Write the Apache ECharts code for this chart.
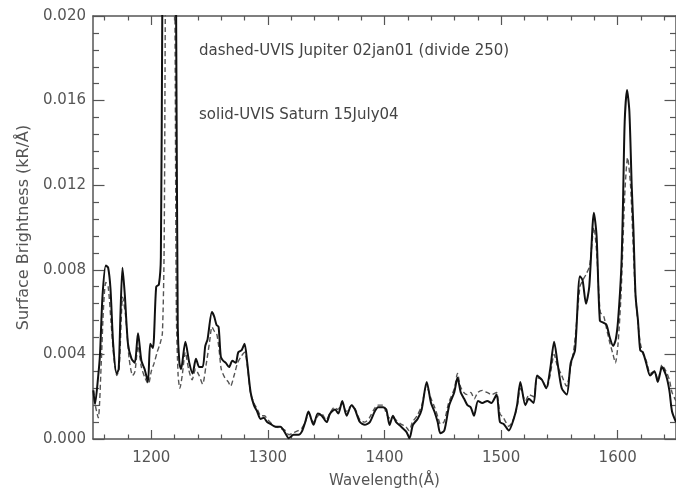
<!DOCTYPE html>
<html>
<head>
<meta charset="utf-8">
<style>html,body{margin:0;padding:0;background:#fff;}#c{width:676px;height:494px;}</style>
<script src="https://cdn.jsdelivr.net/npm/echarts@6/dist/echarts.min.js"></script>
</head>
<body>
<div id="c"></div>
<script>
// Saturn (solid) spectrum: wavelength (Å) and surface brightness (kR/Å)
const solidWl = [1150.3,1151.7,1154.5,1156,1158.2,1161,1163,1165,1167.3,1170.2,1172,1173.6,1175.3,1177.3,1180,1183,1185.8,1188.6,1191.5,1194.3,1197.1,1199.1,1201.4,1204.2,1206.5,1208.2,1209.4,1211,1216,1220,1221.3,1222.7,1224.1,1225.5,1229.2,1232.6,1235.4,1238.3,1241.1,1244,1246.3,1248.2,1252,1253.9,1255.9,1257.7,1259.6,1261.6,1263.9,1266.7,1269.5,1272.4,1274.6,1277.5,1280,1282.3,1285.2,1288,1290.8,1293.7,1296.5,1299.3,1302.5,1306.5,1310.7,1315,1317.8,1322,1326.3,1329.1,1332,1334.8,1339.1,1342.8,1346.2,1350.4,1353.3,1357.6,1360.4,1363.8,1367.5,1371.7,1374.6,1378.9,1383.1,1387.4,1391.6,1394.5,1398.7,1401.5,1404.4,1407.2,1410,1414.3,1418.6,1421.5,1424.3,1428.5,1431.9,1436.2,1439.9,1442.8,1445.6,1447.9,1451.3,1455.5,1459.8,1462.6,1465.4,1468.3,1471.1,1473.9,1476.8,1480.2,1483.9,1488.2,1491.6,1496.1,1499,1502.4,1506.6,1510.9,1513.7,1516.5,1520.8,1523.7,1527.9,1530.8,1535,1538.7,1542.1,1545.5,1548.4,1552,1556.3,1559.7,1563.4,1567.6,1569.9,1572.8,1575.6,1579.6,1581.9,1584.7,1587.6,1590.4,1593.2,1596.1,1598.3,1600.3,1603.1,1604.5,1606,1608,1610,1612,1613.5,1615.3,1617.4,1619.3,1621.6,1624.4,1627.8,1631.5,1634.4,1638,1641.5,1644.3,1646.6,1650];
const solidVal = [0.0023,0.00165,0.0030,0.0040,0.0068,0.0082,0.0081,0.0071,0.0045,0.0031,0.0033,0.0060,0.0081,0.0068,0.0045,0.0038,0.0036,0.0050,0.0037,0.0033,0.0027,0.0045,0.0043,0.0072,0.0073,0.0086,0.020,0.030,0.060,0.030,0.020,0.0053,0.0036,0.0033,0.0046,0.0036,0.0031,0.0038,0.0034,0.0034,0.0044,0.0047,0.0060,0.0058,0.0054,0.0053,0.0039,0.0037,0.0036,0.0034,0.0037,0.0036,0.0041,0.0042,0.0045,0.0036,0.0022,0.0016,0.0013,0.00095,0.0010,0.0008,0.0007,0.00058,0.00058,0.00027,0.00004,0.0002,0.0002,0.00035,0.0008,0.0013,0.00067,0.0012,0.0011,0.0008,0.0012,0.0014,0.0012,0.0018,0.0011,0.0016,0.0014,0.0008,0.00067,0.0008,0.0013,0.0015,0.0015,0.0014,0.00066,0.0011,0.0008,0.00058,0.00035,0.00004,0.00066,0.00096,0.0014,0.0027,0.0017,0.0013,0.0008,0.00027,0.0004,0.0016,0.0022,0.0029,0.0022,0.0019,0.0016,0.0015,0.0011,0.0018,0.0017,0.0018,0.0017,0.0021,0.0008,0.0007,0.0004,0.00096,0.0016,0.0027,0.0016,0.0019,0.0017,0.0030,0.0028,0.0024,0.0033,0.0046,0.0036,0.0024,0.0021,0.0036,0.0042,0.0077,0.0075,0.0064,0.0072,0.0107,0.0096,0.0056,0.0055,0.0054,0.0048,0.0044,0.0047,0.0056,0.0081,0.0110,0.0150,0.0165,0.0155,0.0120,0.0099,0.0068,0.0056,0.0042,0.0041,0.0036,0.0030,0.0032,0.0027,0.0034,0.0030,0.0023,0.0013,0.0008];

// Jupiter (dashed, divided by 250) spectrum
const dashWl = [1150.3,1152,1154.5,1157,1159,1161,1163,1165.5,1168,1170.5,1172.5,1175.5,1178,1181,1184,1186,1188.6,1191.5,1194.5,1197.5,1200,1202.5,1205,1207.5,1209.5,1211,1212,1213,1216,1219,1220.3,1221.5,1223,1224.5,1226.5,1229.2,1232,1235,1238,1241,1244,1247,1250,1252,1254,1256,1258,1260,1263,1266,1268,1271,1274,1277,1280,1282.5,1285,1288,1291,1294,1297,1300,1306,1311,1315,1318,1322,1326,1329,1332,1335,1339,1343,1346,1350,1353,1357,1360,1364,1367,1372,1375,1379,1383,1387,1391,1394,1399,1401,1404,1407,1410,1414,1418,1421,1424,1428,1432,1436,1440,1443,1446,1448,1451,1455,1460,1462.6,1465,1468,1471,1474,1477,1480,1484,1488,1492,1496,1499,1502,1506.6,1511,1514,1516.5,1521,1524,1528,1531,1535,1539,1542,1545.5,1548,1552,1556,1560,1563,1567.6,1570,1573,1576,1579.6,1582,1585,1588,1590.5,1593,1596,1598,1600.3,1603,1606,1608.5,1611,1613,1615,1617.5,1619.5,1622,1624.5,1628,1631.5,1634.5,1638,1641.5,1644.3,1646.6,1650];
const dashVal = [0.0023,0.0016,0.0010,0.0035,0.0062,0.0074,0.0072,0.0055,0.0038,0.0030,0.0034,0.0067,0.0058,0.0038,0.0030,0.0032,0.0044,0.0034,0.0029,0.0026,0.0032,0.0036,0.0041,0.0045,0.0050,0.0090,0.020,0.030,0.060,0.030,0.020,0.0060,0.0030,0.0024,0.0030,0.0041,0.0033,0.0028,0.0033,0.0030,0.0026,0.0035,0.0046,0.0053,0.0051,0.0050,0.0043,0.0033,0.0029,0.0027,0.0025,0.0030,0.0036,0.0039,0.0041,0.0034,0.0022,0.0017,0.0014,0.0011,0.0011,0.0009,0.0006,0.0005,0.0004,0.0002,0.0003,0.0004,0.0005,0.0008,0.0012,0.0008,0.0011,0.0012,0.0009,0.0012,0.0015,0.0014,0.0017,0.0013,0.0016,0.0014,0.0009,0.0008,0.0010,0.0014,0.0016,0.0016,0.0013,0.0010,0.0010,0.0009,0.0007,0.0006,0.0004,0.0008,0.0011,0.0016,0.0025,0.0019,0.0015,0.0010,0.0007,0.0008,0.0017,0.0024,0.0031,0.0025,0.0022,0.0021,0.0022,0.0019,0.0022,0.0023,0.0022,0.0021,0.0022,0.0012,0.0010,0.0006,0.0010,0.0016,0.0024,0.0018,0.0021,0.0020,0.0029,0.0028,0.0024,0.0030,0.0040,0.0035,0.0030,0.0025,0.0035,0.0045,0.0072,0.0075,0.0078,0.0082,0.0100,0.0088,0.0060,0.0058,0.0052,0.0046,0.0040,0.0036,0.0045,0.0070,0.0115,0.0133,0.0120,0.0095,0.0070,0.0054,0.0045,0.0040,0.0037,0.0031,0.0032,0.0028,0.0035,0.0032,0.0028,0.0022,0.0018];

// Axis ticks
const xMajor = [1200,1300,1400,1500,1600];
const xMinor = [];
for (let v = 1160; v <= 1640; v += 20) if (v % 100 !== 0) xMinor.push(v);
const yMajor = [0,0.004,0.008,0.012,0.016,0.020];
const yMinor = [];
for (let i = 1; i < 25; i++) if (i % 5 !== 0) yMinor.push(+(i*0.0008).toFixed(4));

const axisColor = '#555';
const textColor = '#555';
const font = 'DejaVu Sans';

function xAx(pos, ticks, len, line, labels) {
  return {
    type: 'value', min: 1150, max: 1650, position: pos,
    axisLine: {show: line, onZero: false, lineStyle: {color: axisColor, width: 1.5}},
    axisTick: {show: true, inside: true, length: len, customValues: ticks, lineStyle: {color: axisColor, width: 1.2}},
    axisLabel: labels ? {show: true, customValues: xMajor, color: textColor, fontSize: 15, fontFamily: font, margin: 12,
      formatter: v => String(v)} : {show: false},
    splitLine: {show: false}
  };
}
function yAx(pos, ticks, len, line, labels) {
  return {
    type: 'value', min: 0, max: 0.020, position: pos,
    axisLine: {show: line, onZero: false, lineStyle: {color: axisColor, width: 1.5}},
    axisTick: {show: true, inside: true, length: len, customValues: ticks, lineStyle: {color: axisColor, width: 1.2}},
    axisLabel: labels ? {show: true, customValues: yMajor, color: textColor, fontSize: 15, fontFamily: font, margin: 7,
      formatter: v => v.toFixed(3)} : {show: false},
    splitLine: {show: false}
  };
}

const xAxes = [xAx('bottom', xMajor, 9, true, true), xAx('bottom', xMinor, 4.5, false, false),
               xAx('top', xMajor, 9, true, false), xAx('top', xMinor, 4.5, false, false)];
Object.assign(xAxes[0], {name: 'Wavelength(Å)', nameLocation: 'middle', nameGap: 35,
  nameTextStyle: {color: textColor, fontSize: 15, fontFamily: font}});
const yAxes = [yAx('left', yMajor, 11.5, true, true), yAx('left', yMinor, 6, false, false),
               yAx('right', yMajor, 11.5, true, false), yAx('right', yMinor, 6, false, false)];
Object.assign(yAxes[0], {name: 'Surface Brightness (kR/Å)', nameLocation: 'middle', nameGap: 60,
  nameTextStyle: {color: textColor, fontSize: 16, fontFamily: font}});

const chart = echarts.init(document.getElementById('c'), null, {renderer: 'canvas'});
chart.setOption({
  animation: false,
  backgroundColor: '#fff',
  grid: {left: 93, right: -5, top: 16, bottom: 46.5, containLabel: false},
  xAxis: xAxes,
  yAxis: yAxes,
  graphic: [
    {type: 'text', left: 199, top: 44, style: {text: 'dashed-UVIS Jupiter 02jan01 (divide 250)', fill: '#444', font: '15px "DejaVu Sans"'}},
    {type: 'text', left: 199, top: 108, style: {text: 'solid-UVIS Saturn 15July04', fill: '#444', font: '15px "DejaVu Sans"'}}
  ],
  series: [
    {type: 'line', name: 'Jupiter', xAxisIndex: 0, yAxisIndex: 0, showSymbol: false, smooth: 0.25, clip: true,
     lineStyle: {color: '#555', width: 1.4, type: [5, 3]}, z: 2,
     data: dashWl.map((w, i) => [w, dashVal[i]])},
    {type: 'line', name: 'Saturn', xAxisIndex: 0, yAxisIndex: 0, showSymbol: false, smooth: 0.25, clip: true,
     lineStyle: {color: '#111', width: 2}, z: 3,
     data: solidWl.map((w, i) => [w, solidVal[i]])}
  ]
});
</script>
</body>
</html>
